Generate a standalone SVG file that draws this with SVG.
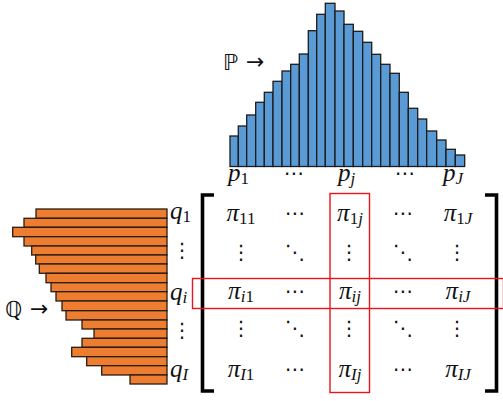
<svg xmlns="http://www.w3.org/2000/svg" width="503" height="401" viewBox="0 0 503 401">
<style>
.bb{fill:#5B9BD5;stroke:#1b1b1b;stroke-width:1.3}
.ob{fill:#ED7D31;stroke:#2a1c10;stroke-width:1.3}
.m{font-family:"Liberation Serif","DejaVu Serif",serif;font-style:italic;font-size:25px;fill:#111}
.s{font-size:17px}
.u{font-style:normal}
.d{font-family:"DejaVu Sans","Liberation Sans",sans-serif;font-size:20px;fill:#111;text-anchor:middle}
.ds{font-family:"DejaVu Sans",sans-serif;font-size:22px;fill:#111}
.br{fill:none;stroke:#000;stroke-width:3.6}
.red{fill:none;stroke:#E8141B;stroke-width:1.4}
</style>
<rect width="503" height="401" fill="#fff"/>
<g id="histP">
<rect class="bb" x="230" y="136" width="8.3" height="30.5"/>
<rect class="bb" x="238.3" y="126" width="8.4" height="40.5"/>
<rect class="bb" x="246.7" y="115" width="9" height="51.5"/>
<rect class="bb" x="255.7" y="102.3" width="8.6" height="64.2"/>
<rect class="bb" x="264.3" y="92.3" width="8.7" height="74.2"/>
<rect class="bb" x="273" y="81.3" width="9" height="85.2"/>
<rect class="bb" x="282" y="71" width="8.7" height="95.5"/>
<rect class="bb" x="290.7" y="64.3" width="8.6" height="102.2"/>
<rect class="bb" x="299.3" y="54" width="9" height="112.5"/>
<rect class="bb" x="308.3" y="30.7" width="8.4" height="135.8"/>
<rect class="bb" x="316.7" y="14.3" width="8.6" height="152.2"/>
<rect class="bb" x="325.3" y="3.3" width="9.7" height="163.2"/>
<rect class="bb" x="335" y="11" width="9" height="155.5"/>
<rect class="bb" x="344" y="24.3" width="9.3" height="142.2"/>
<rect class="bb" x="353.3" y="31.3" width="9.4" height="135.2"/>
<rect class="bb" x="362.7" y="42.3" width="9" height="124.2"/>
<rect class="bb" x="371.7" y="54.3" width="9" height="112.2"/>
<rect class="bb" x="380.7" y="64.3" width="9.3" height="102.2"/>
<rect class="bb" x="390" y="73.3" width="9.3" height="93.2"/>
<rect class="bb" x="399.3" y="92.3" width="9" height="74.2"/>
<rect class="bb" x="408.3" y="108.3" width="9.4" height="58.2"/>
<rect class="bb" x="417.7" y="119" width="9" height="47.5"/>
<rect class="bb" x="426.7" y="131" width="10" height="35.5"/>
<rect class="bb" x="436.7" y="140" width="9.3" height="26.5"/>
<rect class="bb" x="446" y="149.3" width="9.3" height="17.2"/>
<rect class="bb" x="455.3" y="155" width="9.4" height="11.5"/>
</g>
<g id="labelP">
<text class="ds" x="223" y="70">ℙ</text>
<text class="ds" x="246" y="69" font-size="19">→</text>
</g>
<g id="pLabels">
<text class="m" x="228" y="181">p<tspan class="s u" dy="3">1</tspan></text>
<text class="d" x="294" y="180">⋯</text>
<text class="m" x="338" y="181">p<tspan class="s" dy="3">j</tspan></text>
<text class="d" x="405" y="180">⋯</text>
<text class="m" x="443" y="181">p<tspan class="s" dy="3">J</tspan></text>
</g>
<g id="histQ">
<rect class="ob" x="36" y="209" width="131" height="9.3"/>
<rect class="ob" x="24" y="218.3" width="143" height="9"/>
<rect class="ob" x="12.7" y="227.3" width="154.3" height="9.4"/>
<rect class="ob" x="24" y="236.7" width="143" height="9.3"/>
<rect class="ob" x="31.7" y="246" width="135.3" height="9"/>
<rect class="ob" x="35.7" y="255" width="131.3" height="9"/>
<rect class="ob" x="39.3" y="264" width="127.7" height="9.3"/>
<rect class="ob" x="46" y="273.3" width="121" height="9.4"/>
<rect class="ob" x="51" y="282.7" width="116" height="9"/>
<rect class="ob" x="56" y="291.7" width="111" height="9.3"/>
<rect class="ob" x="62" y="301" width="105" height="9.7"/>
<rect class="ob" x="66" y="310.7" width="101" height="9.3"/>
<rect class="ob" x="82" y="320" width="85" height="9"/>
<rect class="ob" x="94" y="329" width="73" height="9.3"/>
<rect class="ob" x="82" y="338.3" width="85" height="9"/>
<rect class="ob" x="71.7" y="347.3" width="95.3" height="9.4"/>
<rect class="ob" x="86.7" y="356.7" width="80.3" height="9"/>
<rect class="ob" x="101.7" y="365.7" width="65.3" height="9.3"/>
<rect class="ob" x="130" y="375" width="37" height="9"/>
</g>
<g id="labelQ">
<text class="ds" x="5" y="317">ℚ</text>
<text class="ds" x="30" y="316" font-size="19">→</text>
</g>
<g id="qLabels">
<text class="m" x="170" y="219">q<tspan class="s u" dy="3">1</tspan></text>
<text class="d" x="182" y="257">⋮</text>
<text class="m" x="170" y="300">q<tspan class="s" dy="3">i</tspan></text>
<text class="d" x="182" y="337">⋮</text>
<text class="m" x="170" y="377">q<tspan class="s" dy="3">I</tspan></text>
</g>
<g id="matrix">
<path class="br" d="M214,195 H202.5 V391 H214"/>
<path class="br" d="M485,195 H496.5 V391 H485"/>
<g text-anchor="middle">
<text class="m" x="241" y="221">π<tspan class="s u" dy="3">11</tspan></text>
<text class="d" x="295" y="220">⋯</text>
<text class="m" x="350" y="221">π<tspan class="s u" dy="3">1</tspan><tspan class="s">j</tspan></text>
<text class="d" x="403" y="220">⋯</text>
<text class="m" x="458" y="221">π<tspan class="s u" dy="3">1</tspan><tspan class="s">J</tspan></text>

<text class="d" x="241" y="259">⋮</text>
<text class="d" x="295" y="259">⋱</text>
<text class="d" x="349" y="259">⋮</text>
<text class="d" x="403" y="259">⋱</text>
<text class="d" x="457" y="259">⋮</text>

<text class="m" x="241" y="299">π<tspan class="s" dy="3">i</tspan><tspan class="s u">1</tspan></text>
<text class="d" x="295" y="298">⋯</text>
<text class="m" x="350" y="299">π<tspan class="s" dy="3">ij</tspan></text>
<text class="d" x="403" y="298">⋯</text>
<text class="m" x="458" y="299">π<tspan class="s" dy="3">iJ</tspan></text>

<text class="d" x="241" y="335">⋮</text>
<text class="d" x="295" y="335">⋱</text>
<text class="d" x="349" y="335">⋮</text>
<text class="d" x="403" y="335">⋱</text>
<text class="d" x="457" y="335">⋮</text>

<text class="m" x="241" y="377">π<tspan class="s" dy="3">I</tspan><tspan class="s u">1</tspan></text>
<text class="d" x="295" y="376">⋯</text>
<text class="m" x="350" y="377">π<tspan class="s" dy="3">Ij</tspan></text>
<text class="d" x="403" y="376">⋯</text>
<text class="m" x="458" y="377">π<tspan class="s" dy="3">IJ</tspan></text>
</g>
</g>
<g id="highlights">
<rect class="red" x="330" y="193.5" width="39.5" height="199"/>
<rect class="red" x="192.5" y="278.5" width="311" height="30"/>
</g>
</svg>
